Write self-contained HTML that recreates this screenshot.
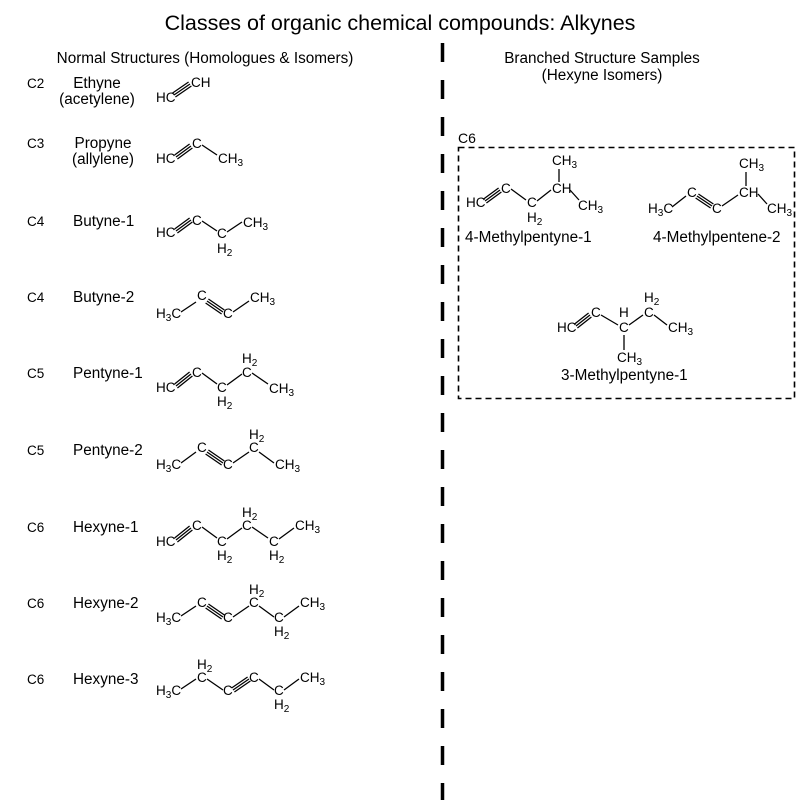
<!DOCTYPE html>
<html><head><meta charset="utf-8"><style>
html,body{margin:0;padding:0;background:#fff}
svg{display:block}
text{font-family:"Liberation Sans",Arial,sans-serif;fill:#000}
.a{font-size:13.5px}
.l{font-size:15.3px}
.s{font-size:10px}
line{stroke:#000;stroke-width:1.3}
</style></head><body>
<svg width="800" height="800" viewBox="0 0 800 800" xmlns="http://www.w3.org/2000/svg">
<text x="400" y="30" font-size="21.5" text-anchor="middle">Classes of organic chemical compounds: Alkynes</text>
<text x="205" y="63" class="l" text-anchor="middle">Normal Structures (Homologues &amp; Isomers)</text>
<text x="602" y="63" class="l" text-anchor="middle">Branched Structure Samples</text>
<text x="602" y="80" class="l" text-anchor="middle">(Hexyne Isomers)</text>
<line x1="442.5" y1="43" x2="442.5" y2="800" style="stroke-width:3.5;stroke-dasharray:19 18"/>
<rect x="458.5" y="147.5" width="336" height="251" fill="none" stroke="#000" stroke-width="1.6" stroke-dasharray="6 4"/>
<text x="458" y="143" font-size="14">C6</text>

<g font-size="13.5">
<text x="27" y="88">C2</text><text x="97" y="88" class="l" text-anchor="middle">Ethyne</text><text x="97" y="104" class="l" text-anchor="middle">(acetylene)</text>
<text x="27" y="148">C3</text><text x="103" y="148" class="l" text-anchor="middle">Propyne</text><text x="103" y="164" class="l" text-anchor="middle">(allylene)</text>
<text x="27" y="226">C4</text><text x="73" y="226" class="l">Butyne-1</text>
<text x="27" y="302">C4</text><text x="73" y="302" class="l">Butyne-2</text>
<text x="27" y="378">C5</text><text x="73" y="378" class="l">Pentyne-1</text>
<text x="27" y="455">C5</text><text x="73" y="455" class="l">Pentyne-2</text>
<text x="27" y="532">C6</text><text x="73" y="532" class="l">Hexyne-1</text>
<text x="27" y="608">C6</text><text x="73" y="608" class="l">Hexyne-2</text>
<text x="27" y="684">C6</text><text x="73" y="684" class="l">Hexyne-3</text>
</g>

<!-- Ethyne -->
<text x="156" y="102" class="a">HC</text><text x="191" y="87" class="a">CH</text>
<line x1="174" y1="95" x2="190" y2="84"/><line x1="175.4" y1="97" x2="191.4" y2="86"/><line x1="172.6" y1="93" x2="188.6" y2="82"/>

<!-- Propyne -->
<text x="156" y="163" class="a">HC</text><text x="192" y="148" class="a">C</text><text x="218" y="163" class="a">CH<tspan class="s" dy="3">3</tspan></text>
<line x1="176" y1="157" x2="191" y2="146"/><line x1="177.4" y1="159" x2="192.4" y2="148"/><line x1="174.6" y1="155" x2="189.6" y2="144"/>
<line x1="202" y1="145" x2="217" y2="155"/>

<!-- Butyne-1 -->
<text x="156" y="237" class="a">HC</text><text x="192" y="225" class="a">C</text><text x="217" y="238" class="a">C</text><text x="217" y="253" class="a">H<tspan class="s" dy="3">2</tspan></text><text x="243" y="227" class="a">CH<tspan class="s" dy="3">3</tspan></text>
<line x1="176" y1="231" x2="191" y2="220"/><line x1="177.4" y1="233" x2="192.4" y2="222"/><line x1="174.6" y1="229" x2="189.6" y2="218"/>
<line x1="202" y1="221" x2="217" y2="231"/><line x1="227" y1="232" x2="242" y2="222"/>

<!-- Butyne-2 -->
<text x="156" y="318" class="a">H<tspan class="s" dy="3">3</tspan><tspan dy="-3">C</tspan></text><text x="197" y="300" class="a">C</text><text x="223" y="318" class="a">C</text><text x="250" y="302" class="a">CH<tspan class="s" dy="3">3</tspan></text>
<line x1="181" y1="312" x2="196" y2="302"/>
<line x1="207" y1="301" x2="223" y2="312"/><line x1="205.6" y1="303" x2="221.6" y2="314"/><line x1="208.4" y1="299" x2="224.4" y2="310"/>
<line x1="233" y1="312" x2="249" y2="301"/>

<!-- Pentyne-1 -->
<text x="156" y="392" class="a">HC</text><text x="192" y="377" class="a">C</text><text x="217" y="392" class="a">C</text><text x="217" y="406" class="a">H<tspan class="s" dy="3">2</tspan></text><text x="242" y="377" class="a">C</text><text x="242" y="363" class="a">H<tspan class="s" dy="3">2</tspan></text><text x="269" y="393" class="a">CH<tspan class="s" dy="3">3</tspan></text>
<line x1="176" y1="386" x2="191" y2="374"/><line x1="177.4" y1="388" x2="192.4" y2="376"/><line x1="174.6" y1="384" x2="189.6" y2="372"/>
<line x1="202" y1="373" x2="217" y2="384"/><line x1="227" y1="385" x2="242" y2="374"/><line x1="252" y1="373" x2="268" y2="384"/>

<!-- Pentyne-2 -->
<text x="156" y="469" class="a">H<tspan class="s" dy="3">3</tspan><tspan dy="-3">C</tspan></text><text x="197" y="452" class="a">C</text><text x="223" y="469" class="a">C</text><text x="249" y="452" class="a">C</text><text x="249" y="439" class="a">H<tspan class="s" dy="3">2</tspan></text><text x="275" y="469" class="a">CH<tspan class="s" dy="3">3</tspan></text>
<line x1="181" y1="463" x2="196" y2="452"/>
<line x1="207" y1="452" x2="223" y2="463"/><line x1="205.6" y1="454" x2="221.6" y2="465"/><line x1="208.4" y1="450" x2="224.4" y2="461"/>
<line x1="233" y1="463" x2="249" y2="452"/><line x1="259" y1="452" x2="274" y2="463"/>

<!-- Hexyne-1 -->
<text x="156" y="546" class="a">HC</text><text x="192" y="530" class="a">C</text><text x="217" y="546" class="a">C</text><text x="217" y="560" class="a">H<tspan class="s" dy="3">2</tspan></text><text x="242" y="530" class="a">C</text><text x="242" y="517" class="a">H<tspan class="s" dy="3">2</tspan></text><text x="269" y="546" class="a">C</text><text x="269" y="560" class="a">H<tspan class="s" dy="3">2</tspan></text><text x="295" y="530" class="a">CH<tspan class="s" dy="3">3</tspan></text>
<line x1="176" y1="540" x2="191" y2="528"/><line x1="177.4" y1="542" x2="192.4" y2="530"/><line x1="174.6" y1="538" x2="189.6" y2="526"/>
<line x1="202" y1="527" x2="217" y2="538"/><line x1="227" y1="539" x2="242" y2="528"/><line x1="252" y1="527" x2="268" y2="538"/><line x1="279" y1="539" x2="294" y2="528"/>

<!-- Hexyne-2 -->
<text x="156" y="622" class="a">H<tspan class="s" dy="3">3</tspan><tspan dy="-3">C</tspan></text><text x="197" y="607" class="a">C</text><text x="223" y="622" class="a">C</text><text x="249" y="607" class="a">C</text><text x="249" y="594" class="a">H<tspan class="s" dy="3">2</tspan></text><text x="274" y="622" class="a">C</text><text x="274" y="636" class="a">H<tspan class="s" dy="3">2</tspan></text><text x="300" y="607" class="a">CH<tspan class="s" dy="3">3</tspan></text>
<line x1="181" y1="616" x2="196" y2="606"/>
<line x1="207" y1="606" x2="223" y2="617"/><line x1="205.6" y1="608" x2="221.6" y2="619"/><line x1="208.4" y1="604" x2="224.4" y2="615"/>
<line x1="233" y1="617" x2="249" y2="606"/><line x1="259" y1="606" x2="274" y2="617"/><line x1="284" y1="617" x2="299" y2="606"/>

<!-- Hexyne-3 -->
<text x="156" y="695" class="a">H<tspan class="s" dy="3">3</tspan><tspan dy="-3">C</tspan></text><text x="197" y="682" class="a">C</text><text x="197" y="669" class="a">H<tspan class="s" dy="3">2</tspan></text><text x="223" y="695" class="a">C</text><text x="249" y="682" class="a">C</text><text x="274" y="695" class="a">C</text><text x="274" y="709" class="a">H<tspan class="s" dy="3">2</tspan></text><text x="300" y="682" class="a">CH<tspan class="s" dy="3">3</tspan></text>
<line x1="181" y1="689" x2="196" y2="679"/><line x1="207" y1="679" x2="223" y2="690"/>
<line x1="233" y1="690" x2="249" y2="679"/><line x1="234.4" y1="692" x2="250.4" y2="681"/><line x1="231.6" y1="688" x2="247.6" y2="677"/>
<line x1="259" y1="679" x2="274" y2="690"/><line x1="284" y1="690" x2="299" y2="679"/>

<!-- 4-Methylpentyne-1 -->
<text x="466" y="207" class="a">HC</text><text x="501" y="193" class="a">C</text><text x="527" y="207" class="a">C</text><text x="527" y="222" class="a">H<tspan class="s" dy="3">2</tspan></text><text x="552" y="193" class="a">CH</text><text x="552" y="165" class="a">CH<tspan class="s" dy="3">3</tspan></text><text x="578" y="210" class="a">CH<tspan class="s" dy="3">3</tspan></text>
<line x1="485" y1="201" x2="500" y2="190"/><line x1="486.4" y1="203" x2="501.4" y2="192"/><line x1="483.6" y1="199" x2="498.6" y2="188"/>
<line x1="511" y1="189" x2="526" y2="200"/><line x1="537" y1="201" x2="551" y2="190"/><line x1="559" y1="169" x2="559" y2="182"/><line x1="570" y1="190" x2="579" y2="200"/>
<text x="465" y="242" class="l">4-Methylpentyne-1</text>

<!-- 4-Methylpentene-2 -->
<text x="648" y="213" class="a">H<tspan class="s" dy="3">3</tspan><tspan dy="-3">C</tspan></text><text x="687" y="197" class="a">C</text><text x="712" y="213" class="a">C</text><text x="739" y="197" class="a">CH</text><text x="739" y="168" class="a">CH<tspan class="s" dy="3">3</tspan></text><text x="767" y="213" class="a">CH<tspan class="s" dy="3">3</tspan></text>
<line x1="672" y1="207" x2="686" y2="196"/>
<line x1="697" y1="196" x2="712" y2="206"/><line x1="695.6" y1="198" x2="710.6" y2="208"/><line x1="698.4" y1="194" x2="713.4" y2="204"/>
<line x1="722" y1="206" x2="738" y2="195"/><line x1="746" y1="172" x2="746" y2="186"/><line x1="758" y1="194" x2="767" y2="204"/>
<text x="653" y="242" class="l">4-Methylpentene-2</text>

<!-- 3-Methylpentyne-1 -->
<text x="557" y="332" class="a">HC</text><text x="591" y="317" class="a">C</text><text x="619" y="317" class="a">H</text><text x="619" y="332" class="a">C</text><text x="644" y="317" class="a">C</text><text x="644" y="302" class="a">H<tspan class="s" dy="3">2</tspan></text><text x="668" y="332" class="a">CH<tspan class="s" dy="3">3</tspan></text><text x="617" y="362" class="a">CH<tspan class="s" dy="3">3</tspan></text>
<line x1="576" y1="326" x2="590" y2="315"/><line x1="577.4" y1="328" x2="591.4" y2="317"/><line x1="574.6" y1="324" x2="588.6" y2="313"/>
<line x1="601" y1="315" x2="618" y2="325"/><line x1="629" y1="325" x2="643" y2="315"/><line x1="654" y1="315" x2="667" y2="325"/><line x1="624" y1="335" x2="624" y2="350"/>
<text x="561" y="380" class="l">3-Methylpentyne-1</text>
</svg>
</body></html>
